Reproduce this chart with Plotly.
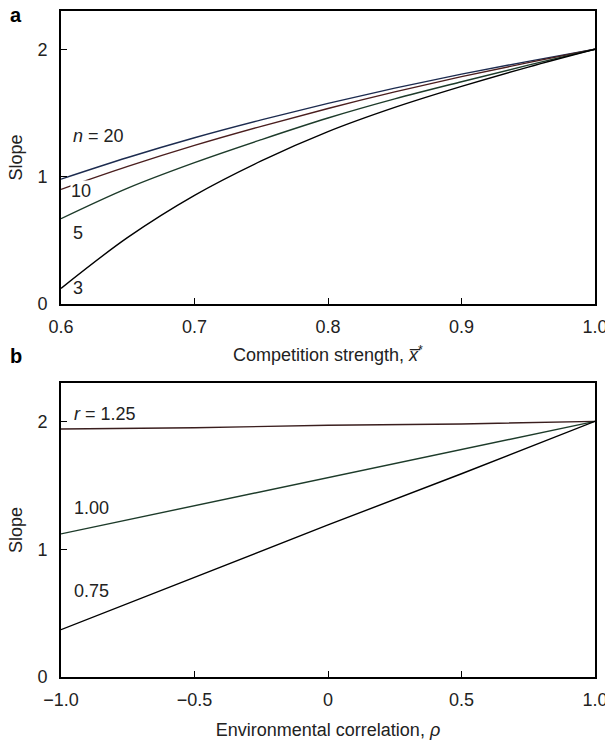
import plotly.graph_objects as go
from plotly.subplots import make_subplots

# Panel a: slope vs competition strength
comp_x = [0.6, 0.65, 0.7, 0.75, 0.8, 0.85, 0.9, 0.95, 1.0]
slope_n20 = [0.98, 1.15, 1.305, 1.445, 1.575, 1.695, 1.805, 1.905, 2.0]
slope_n10 = [0.90, 1.08, 1.245, 1.395, 1.535, 1.665, 1.785, 1.895, 2.0]
slope_n5 = [0.67, 0.91, 1.11, 1.29, 1.46, 1.61, 1.745, 1.875, 2.0]
slope_n3 = [0.123, 0.523, 0.853, 1.123, 1.353, 1.543, 1.708, 1.86, 2.0]

# Panel b: slope vs environmental correlation
rho_x = [-1.0, -0.5, 0.0, 0.5, 1.0]
slope_r125 = [1.94, 1.95, 1.97, 1.98, 2.0]
slope_r100 = [1.12, 1.34, 1.56, 1.78, 2.0]
slope_r075 = [0.37, 0.78, 1.19, 1.59, 2.0]

FONT = "Liberation Sans, Arial, sans-serif"
FS = 18
fig = make_subplots(rows=2, cols=1, vertical_spacing=0.0)

lw = 1.4
for ys, col in [(slope_n20, "#1c2b4f"), (slope_n10, "#4a1e1e"),
                (slope_n5, "#1d3b2a"), (slope_n3, "#000000")]:
    fig.add_trace(go.Scatter(x=comp_x, y=ys, mode="lines", line=dict(color=col, width=lw),
                             line_shape="spline", showlegend=False), row=1, col=1)
for ys, col in [(slope_r125, "#3a1e1e"), (slope_r100, "#1d3b2a"), (slope_r075, "#000000")]:
    fig.add_trace(go.Scatter(x=rho_x, y=ys, mode="lines", line=dict(color=col, width=lw),
                             showlegend=False), row=2, col=1)

axis_common = dict(showline=True, linecolor="black", linewidth=1.8, mirror=True,
                   ticks="inside", ticklen=6, tickwidth=1, tickcolor="black",
                   showgrid=False, zeroline=False, ticklabeloverflow="allow",
                   automargin=False,
                   tickfont=dict(family=FONT, size=FS, color="#222"),
                   title_font=dict(family=FONT, size=FS, color="#222"))

fig.update_xaxes(ticklabelstandoff=5, **axis_common)
fig.update_yaxes(ticklabelstandoff=8, **axis_common)

fig.update_layout(
    width=605, height=740,
    margin=dict(l=61, r=10, t=11, b=63, autoexpand=False),
    paper_bgcolor="white", plot_bgcolor="white",
    font=dict(family=FONT, size=FS, color="#222"),
    xaxis=dict(domain=[0, 1], range=[0.6, 1.0], tickvals=[0.6, 0.7, 0.8, 0.9, 1.0],
               ticktext=["0.6", "0.7", "0.8", "0.9", "1.0"],
               title=dict(text="Competition strength, <i>x̅</i><sup>*</sup>", standoff=13)),
    yaxis=dict(domain=[0.560, 1.0], range=[0, 2.3], tickvals=[0, 1, 2],
               title=dict(text="Slope", standoff=10)),
    xaxis2=dict(domain=[0, 1], range=[-1.0, 1.0], tickvals=[-1.0, -0.5, 0, 0.5, 1.0],
                ticktext=["\u22121.0", "\u22120.5", "0", "0.5", "1.0"],
                title=dict(text="Environmental correlation, <i>ρ</i>", standoff=16)),
    yaxis2=dict(domain=[0.0, 0.4414], range=[0, 2.3], tickvals=[0, 1, 2],
                title=dict(text="Slope", standoff=10)),
)

ann_font = dict(family=FONT, size=FS, color="#222")
labels_a = [("<i>n</i> = 20", 0.608, 1.32), ("10", 0.607, 0.89), ("5", 0.608, 0.56), ("3", 0.608, 0.125)]
for txt, x, y in labels_a:
    kw = dict(bgcolor="white") if txt == "10" else {}
    fig.add_annotation(x=x, y=y, xref="x", yref="y", text=txt, showarrow=False,
                       xanchor="left", yanchor="middle", font=ann_font, borderpad=0, **kw)
labels_b = [("<i>r</i> = 1.25", -0.959, 2.06), ("1.00", -0.959, 1.325), ("0.75", -0.959, 0.675)]
for txt, x, y in labels_b:
    fig.add_annotation(x=x, y=y, xref="x2", yref="y2", text=txt, showarrow=False,
                       xanchor="left", yanchor="middle", font=ann_font)

fig.add_annotation(x=-0.084, y=0.994, xref="paper", yref="paper", text="<b>a</b>", showarrow=False,
                   xanchor="center", yanchor="middle", font=dict(family=FONT, size=20, color="black"))
fig.add_annotation(x=-0.084, y=0.482, xref="paper", yref="paper", text="<b>b</b>", showarrow=False,
                   xanchor="center", yanchor="middle", font=dict(family=FONT, size=20, color="black"))

fig.write_html("out.html", config={"displayModeBar": False},
               post_script="document.body.style.margin='0';document.body.style.overflow='hidden';")
